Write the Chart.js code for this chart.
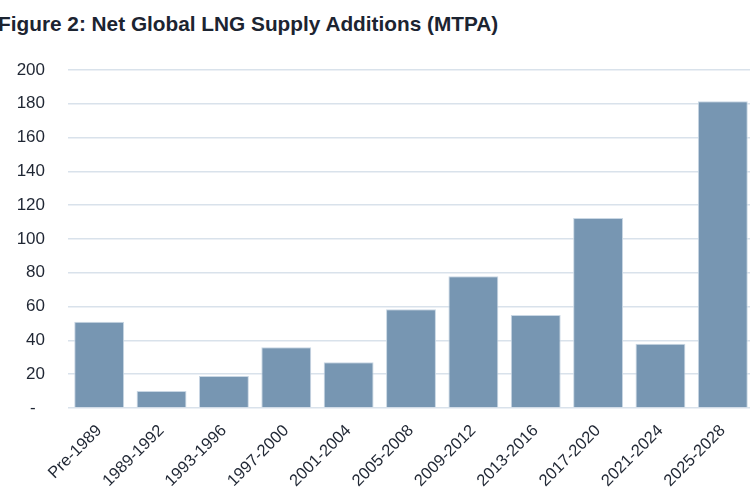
<!DOCTYPE html>
<html>
<head>
<meta charset="utf-8">
<script src="https://cdn.jsdelivr.net/npm/chart.js@4/dist/chart.umd.min.js"></script>
<style>
  html, body { margin:0; padding:0; background:#fff; }
  #wrap { position:relative; width:750px; height:502px; overflow:hidden; }
  #title { position:absolute; left:-2px; top:12px; font:bold 20.8px "Liberation Sans", Arial, sans-serif; color:#1c2431; white-space:nowrap; }
  #c { position:absolute; left:0; top:0; }
</style>
</head>
<body>
<div id="wrap">
  <div id="title">Figure 2: Net Global LNG Supply Additions (MTPA)</div>
  <canvas id="c" width="754" height="502"></canvas>
</div>
<script>
// Datos
const periods = ['Pre-1989','1989-1992','1993-1996','1997-2000','2001-2004','2005-2008','2009-2012','2013-2016','2017-2020','2021-2024','2025-2028'];
const additions = [51, 10, 19, 36, 27, 58.5, 78, 55, 112.5, 38, 181.5];
const yTicks = [0, 20, 40, 60, 80, 100, 120, 140, 160, 180, 200];

const ctx = document.getElementById('c').getContext('2d');
new Chart(ctx, {
  type: 'bar',
  data: {
    labels: periods,
    datasets: [{
      data: additions,
      backgroundColor: '#7796b2',
      borderColor: '#c9d7e4',
      borderWidth: 1,
      barPercentage: 0.8,
      categoryPercentage: 1
    }]
  },
  options: {
    responsive: false,
    animation: false,
    layout: { padding: { top: 70, right: 0, left: 0, bottom: 0 } },
    plugins: { legend: { display: false }, tooltip: { enabled: false } },
    scales: {
      x: {
        grid: { display: false },
        border: { display: false },
        ticks: {
          color: '#1f2633',
          font: { family: '"Liberation Sans", Arial', size: 16.5 },
          minRotation: 45, maxRotation: 45,
          padding: 5
        },
        afterFit: s => { s.height = 94; }
      },
      y: {
        min: 0, max: 200,
        afterBuildTicks: s => { s.ticks = yTicks.map(v => ({ value: v })); },
        grid: { color: '#d9e2eb', lineWidth: 1.5, drawTicks: false },
        border: { display: false },
        ticks: {
          color: '#1f2633',
          font: { family: '"Liberation Sans", Arial', size: 17 },
          padding: 23,
          callback: v => v === 0 ? '-  ' : v
        },
        afterFit: s => { s.width = 68; }
      }
    }
  }
});
</script>
</body>
</html>
